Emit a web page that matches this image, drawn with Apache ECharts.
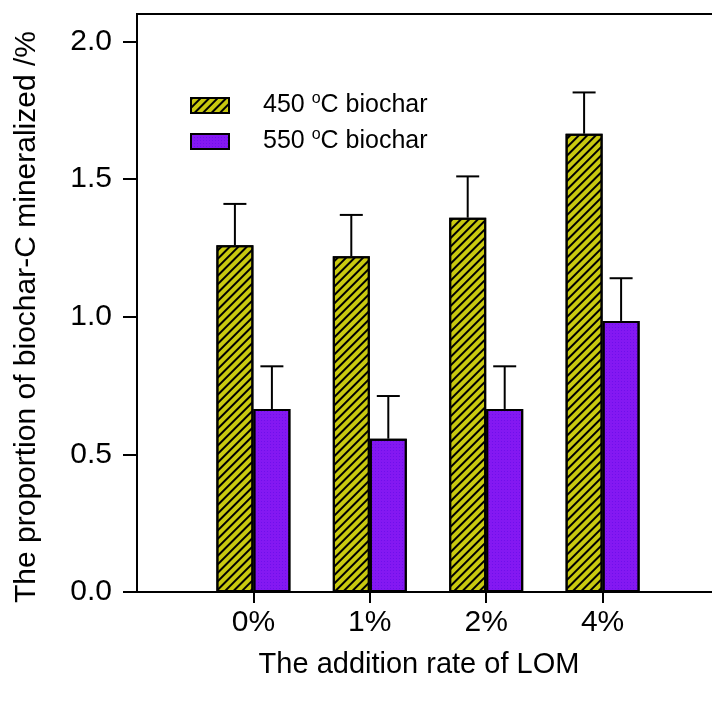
<!DOCTYPE html>
<html>
<head>
<meta charset="utf-8">
<script src="https://cdn.jsdelivr.net/npm/echarts@6/dist/echarts.min.js"></script>
<style>
html,body{margin:0;padding:0;background:#fff;}
#chart{width:712px;height:706px;}
</style>
</head>
<body>
<div id="chart"></div>
<script>
// ---- data ----
const categories = ['', '0%', '1%', '2%', '4%', ''];
const seriesNames = ['450 °C biochar', '550 °C biochar'];
const values450 = ['-', 1.26, 1.22, 1.36, 1.665, '-'];
const errors450 = [0, 0.15, 0.15, 0.15, 0.15, 0];
const values550 = ['-', 0.665, 0.557, 0.665, 0.985, '-'];
const errors550 = [0, 0.155, 0.155, 0.155, 0.155, 0];
const yTicks = [0, 0.5, 1.0, 1.5, 2.0];

const FONT = 'Liberation Sans, Arial, Helvetica, sans-serif';
const BAR_W = 37;

function errData(vals, errs) {
  const out = [];
  vals.forEach((v, i) => { if (v !== '-') out.push([i, v, errs[i]]); });
  return out;
}
function errSeries(vals, errs, offset) {
  return {
    type: 'custom',
    silent: true,
    z: 5,
    data: errData(vals, errs),
    renderItem: function (params, api) {
      const base = api.coord([api.value(0), api.value(1)]);
      const top = api.coord([api.value(0), api.value(1) + api.value(2)]);
      const x = base[0] + offset;
      const half = 11.5;
      return {
        type: 'group',
        children: [
          { type: 'line', shape: { x1: x, y1: base[1], x2: x, y2: top[1] }, style: { stroke: '#000', lineWidth: 2 } },
          { type: 'line', shape: { x1: x - half, y1: top[1], x2: x + half, y2: top[1] }, style: { stroke: '#000', lineWidth: 2 } }
        ]
      };
    }
  };
}

const chart = echarts.init(document.getElementById('chart'), null, { renderer: 'canvas' });
chart.setOption({
  backgroundColor: '#fff',
  animation: false,
  grid: {
    left: 137, top: 14, width: 582, bottom: 114,
    show: true, borderColor: '#000', borderWidth: 2,
    containLabel: false, outerBoundsMode: 'none'
  },
  legend: {
    orient: 'vertical',
    left: 190, top: 91,
    padding: 0,
    icon: 'rect',
    itemWidth: 38, itemHeight: 15, itemGap: 7,
    data: seriesNames,
    formatter: function (name) { return name.replace('°', '{sup|o}'); },
    textStyle: {
      fontFamily: FONT, fontSize: 25, color: '#000', lineHeight: 29, padding: [0, 0, 0, 29],
      rich: { sup: { fontFamily: FONT, fontSize: 16, lineHeight: 8, verticalAlign: 'top' } }
    }
  },
  xAxis: {
    type: 'category',
    data: categories,
    boundaryGap: false,
    axisLine: { lineStyle: { color: '#000', width: 2 } },
    axisTick: { interval: function (i) { return i >= 1 && i <= 4; }, length: 11, lineStyle: { color: '#000', width: 2 } },
    axisLabel: { interval: 0, margin: 16, fontFamily: FONT, fontSize: 30, color: '#000' },
    name: 'The addition rate of LOM',
    nameLocation: 'middle',
    nameGap: 58,
    nameTextStyle: { fontFamily: FONT, fontSize: 29, color: '#000', padding: [0, 18, 0, 0] },
    splitLine: { show: false }
  },
  yAxis: {
    type: 'value',
    min: 0, max: 2.1,
    axisLine: { show: true, lineStyle: { color: '#000', width: 2 } },
    axisTick: { show: true, customValues: yTicks, length: 14, lineStyle: { color: '#000', width: 2 } },
    axisLabel: { customValues: yTicks, margin: 25, fontFamily: FONT, fontSize: 30, color: '#000', formatter: v => v.toFixed(1) },
    splitLine: { show: false },
    name: 'The proportion of biochar-C mineralized /%',
    nameLocation: 'middle',
    nameGap: 95,
    nameTextStyle: { fontFamily: FONT, fontSize: 30, color: '#000', padding: [0, 28, 0, 0] }
  },
  series: [
    {
      name: seriesNames[0], type: 'bar', data: values450, barWidth: BAR_W, barGap: '0%',
      itemStyle: {
        color: '#c9c90f', borderColor: '#000', borderWidth: 2,
        decal: { symbol: 'rect', color: '#000', dashArrayX: [1, 0], dashArrayY: [2, 3.5], rotation: -Math.PI / 4 }
      }
    },
    {
      name: seriesNames[1], type: 'bar', data: values550, barWidth: BAR_W, barGap: '0%',
      itemStyle: {
        color: '#8418f2', borderColor: '#000', borderWidth: 2,
        decal: { symbol: 'rect', symbolSize: 1, color: 'rgba(70,0,220,0.35)', dashArrayX: [1, 2], dashArrayY: [1, 2] }
      }
    },
    errSeries(values450, errors450, -BAR_W / 2),
    errSeries(values550, errors550, BAR_W / 2)
  ]
});
</script>
</body>
</html>
